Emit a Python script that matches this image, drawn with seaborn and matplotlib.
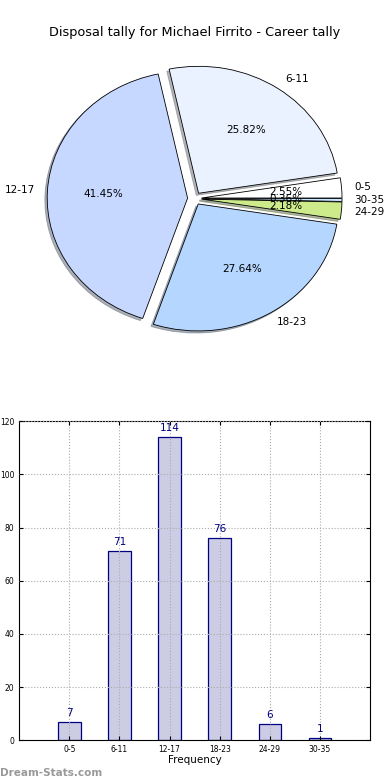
import matplotlib
matplotlib.use('Agg')
import matplotlib.pyplot as plt
import seaborn as sns
import pandas as pd

# dados
faixas = ['0-5', '6-11', '12-17', '18-23', '24-29', '30-35']
contagem = [7, 71, 114, 76, 6, 1]
cores_pizza = ['#ffffff', '#eaf2ff', '#c6d8ff', '#b5d6ff', '#cdeb8b', '#c8e6ff']
titulo = 'Disposal tally for Michael Firrito - Career tally'

df = pd.DataFrame({'faixa': faixas, 'total': contagem})

fig = plt.figure(figsize=(3.9, 7.8), dpi=100)

# pizza
ax1 = fig.add_axes([0.049, 0.542, 0.9, 0.407])
ax1.pie(df['total'], labels=df['faixa'], colors=cores_pizza, autopct='%1.2f%%',
        explode=[0.05] * len(faixas),
        shadow={'ox': -0.012, 'oy': -0.012, 'shade': 0.55},
        startangle=0, labeldistance=1.09,
        wedgeprops={'edgecolor': 'black', 'linewidth': 0.6},
        textprops={'fontsize': 7.5})
ax1.set_aspect('auto')
ax1.set_xlim(-1.25, 1.25)
ax1.set_ylim(-1.25, 1.25)
ax1.set_title(titulo, fontsize=9.3, pad=3)

# barras
ax2 = fig.add_axes([0.049, 0.051, 0.9, 0.409])
sns.barplot(data=df, x='faixa', y='total', color='#ccccE5', edgecolor='#000080',
            linewidth=0.9, width=0.45, saturation=1, ax=ax2)
ax2.set_xlim(-1, 6)
ax2.set_ylim(0, 120)
ax2.set_yticks(range(0, 121, 20))
ax2.set_xlabel('Frequency', fontsize=7.5, labelpad=1)
ax2.set_ylabel('')
ax2.tick_params(axis='both', direction='in', top=True, right=True, labelsize=5.5, length=3)
ax2.grid(True, linestyle=':', color='#aaaaaa', linewidth=0.8)
ax2.set_axisbelow(False)
for sp in ax2.spines.values():
    sp.set_linewidth(0.8)

# valores nas barras
for i, v in enumerate(contagem):
    ax2.text(i, v + 1.5, str(v), ha='center', va='bottom', fontsize=7.5, color='#000080')

fig.text(0.0, 0.005, 'Dream-Stats.com', fontsize=7.5, color='#999999', fontweight='bold')

plt.savefig('out.png', dpi=100)
